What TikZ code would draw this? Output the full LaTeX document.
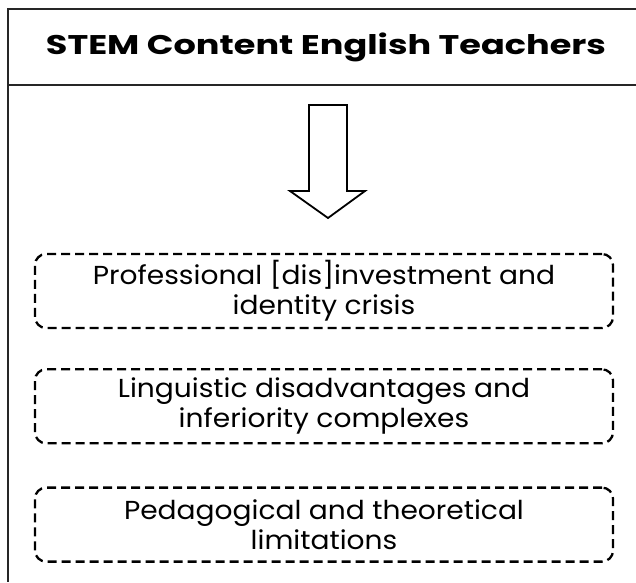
\documentclass[tikz,border=0pt]{standalone}
\usepackage{fontspec}
\setmainfont[FakeStretch=1.08]{Poppins}
\newfontfamily\headfont[FakeStretch=1.3]{Poppins}
\usetikzlibrary{positioning}

\tikzset{
  frame/.style={line width=2.6pt, black!85},
  theme/.style={draw, line width=2.3pt, dash pattern=on 9pt off 5pt,
    rounded corners=11pt, minimum width=578pt, minimum height=74pt,
    align=center, font=\fontsize{26}{30}\selectfont},
}

\begin{document}
\begin{tikzpicture}[x=1pt, y=-1pt]
  \useasboundingbox (0,0) rectangle (636,582);
  % outer frame, cut off at the right and bottom
  \draw[frame] (636,9) -- (8,9) -- (8,582);
  \draw[frame] (8,85) -- (636,85);
  \node[font=\headfont\bfseries\fontsize{27}{30}\selectfont] (head) at (326,47) {STEM Content English Teachers};

  % block arrow
  \draw[line width=1.8pt] (309,105) -- (347,105) -- (347,191) -- (365,191)
    -- (328,218) -- (290,191) -- (309,191) -- cycle;

  \node[theme] (prof) at (324,291) {Professional [dis]investment and\\identity crisis};
  \node[theme, below=39pt of prof] (ling) {Linguistic disadvantages and\\inferiority complexes};
  \node[theme, below=42pt of ling] (peda) {Pedagogical and theoretical\\limitations};
\end{tikzpicture}
\end{document}
